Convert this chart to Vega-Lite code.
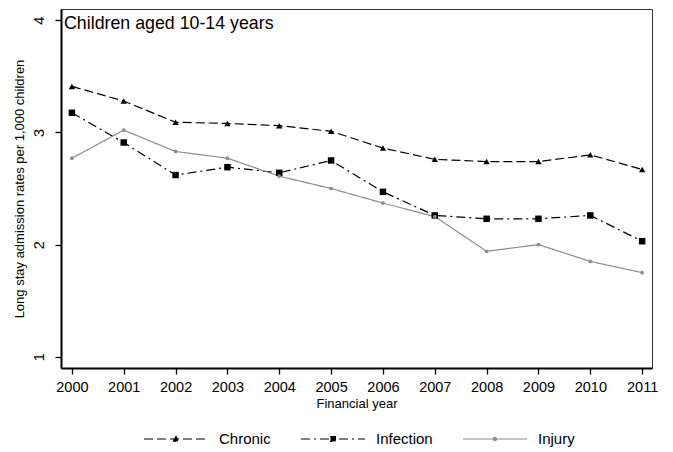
{
  "$schema": "https://vega.github.io/schema/vega-lite/v6.json",
  "width": 591,
  "height": 359,
  "autosize": {"type": "none"},
  "padding": {"left": 61, "top": 9, "right": 21, "bottom": 84},
  "background": "white",
  "title": {
    "text": "Children aged 10-14 years",
    "anchor": "start",
    "frame": "group",
    "orient": "top",
    "baseline": "top",
    "offset": -24,
    "dx": 3,
    "fontSize": 17.8,
    "fontWeight": "normal",
    "font": "Liberation Sans",
    "color": "#000"
  },
  "config": {
    "font": "Liberation Sans",
    "view": {"stroke": "#333", "strokeWidth": 1},
    "axis": {"grid": false, "domainColor": "#000", "domainWidth": 2, "tickColor": "#000", "tickWidth": 1.3, "tickSize": 6, "labelColor": "#000", "titleColor": "#000", "labelFont": "Liberation Sans", "titleFont": "Liberation Sans", "titleFontWeight": "normal"},
    "legend": {"orient": "none", "legendX": 82, "legendY": 397, "direction": "horizontal", "symbolSize": 4096, "symbolStrokeWidth": 1.2, "symbolOpacity": 1, "labelFontSize": 15, "labelFont": "Liberation Sans", "labelColor": "#000", "labelOffset": 10, "columnPadding": 27, "title": null}
  },
  "data": {"values": [
    {"year": 2000, "series": "Chronic", "rate": 3.41},
    {"year": 2001, "series": "Chronic", "rate": 3.28},
    {"year": 2002, "series": "Chronic", "rate": 3.09},
    {"year": 2003, "series": "Chronic", "rate": 3.08},
    {"year": 2004, "series": "Chronic", "rate": 3.06},
    {"year": 2005, "series": "Chronic", "rate": 3.01},
    {"year": 2006, "series": "Chronic", "rate": 2.86},
    {"year": 2007, "series": "Chronic", "rate": 2.76},
    {"year": 2008, "series": "Chronic", "rate": 2.74},
    {"year": 2009, "series": "Chronic", "rate": 2.74},
    {"year": 2010, "series": "Chronic", "rate": 2.80},
    {"year": 2011, "series": "Chronic", "rate": 2.67},
    {"year": 2000, "series": "Infection", "rate": 3.175},
    {"year": 2001, "series": "Infection", "rate": 2.91},
    {"year": 2002, "series": "Infection", "rate": 2.62},
    {"year": 2003, "series": "Infection", "rate": 2.69},
    {"year": 2004, "series": "Infection", "rate": 2.64},
    {"year": 2005, "series": "Infection", "rate": 2.75},
    {"year": 2006, "series": "Infection", "rate": 2.47},
    {"year": 2007, "series": "Infection", "rate": 2.26},
    {"year": 2008, "series": "Infection", "rate": 2.23},
    {"year": 2009, "series": "Infection", "rate": 2.23},
    {"year": 2010, "series": "Infection", "rate": 2.26},
    {"year": 2011, "series": "Infection", "rate": 2.03},
    {"year": 2000, "series": "Injury", "rate": 2.77},
    {"year": 2001, "series": "Injury", "rate": 3.02},
    {"year": 2002, "series": "Injury", "rate": 2.83},
    {"year": 2003, "series": "Injury", "rate": 2.77},
    {"year": 2004, "series": "Injury", "rate": 2.61},
    {"year": 2005, "series": "Injury", "rate": 2.50},
    {"year": 2006, "series": "Injury", "rate": 2.37},
    {"year": 2007, "series": "Injury", "rate": 2.25},
    {"year": 2008, "series": "Injury", "rate": 1.94},
    {"year": 2009, "series": "Injury", "rate": 2.00},
    {"year": 2010, "series": "Injury", "rate": 1.85},
    {"year": 2011, "series": "Injury", "rate": 1.75}
  ]},
  "encoding": {
    "x": {
      "field": "year", "type": "quantitative",
      "scale": {"domain": [1999.79, 2011.19], "nice": false, "zero": false},
      "axis": {"values": [2000, 2001, 2002, 2003, 2004, 2005, 2006, 2007, 2008, 2009, 2010, 2011], "format": "d", "labelFontSize": 14.5, "labelPadding": 6, "title": "Financial year", "titleFontSize": 13, "titlePadding": 4}
    },
    "y": {
      "field": "rate", "type": "quantitative",
      "scale": {"domain": [0.9, 4.1], "nice": false, "zero": false},
      "axis": {"values": [1, 2, 3, 4], "format": "d", "labelFontSize": 14.5, "labelAngle": -90, "labelAlign": "center", "labelBaseline": "alphabetic", "labelPadding": 12, "title": "Long stay admission rates per 1,000 children", "titleFontSize": 13, "titlePadding": 5}
    }
  },
  "layer": [
    {
      "mark": {"type": "line", "strokeWidth": 1.2},
      "encoding": {
        "stroke": {"field": "series", "type": "nominal", "title": null, "scale": {"domain": ["Chronic", "Infection", "Injury"], "range": ["#000000", "#000000", "#8c8c8c"]}},
        "strokeDash": {"field": "series", "type": "nominal", "title": null, "scale": {"domain": ["Chronic", "Infection", "Injury"], "range": [[9, 4], [9, 4, 2, 4], [1, 0]]}}
      }
    },
    {
      "transform": [{"filter": "datum.series === 'Chronic'"}],
      "mark": {"type": "point", "shape": "triangle-up", "filled": true, "color": "#000", "size": 40, "opacity": 1}
    },
    {
      "transform": [{"filter": "datum.series === 'Infection'"}],
      "mark": {"type": "point", "shape": "square", "filled": true, "color": "#000", "size": 42, "opacity": 1}
    },
    {
      "transform": [{"filter": "datum.series === 'Injury'"}],
      "mark": {"type": "point", "shape": "circle", "filled": true, "color": "#8c8c8c", "size": 14, "opacity": 1}
    },
    {
      "mark": {"type": "point", "filled": true, "opacity": 0},
      "encoding": {
        "shape": {"field": "series", "type": "nominal", "title": null,
          "scale": {"domain": ["Chronic", "Infection", "Injury"], "range": [
            "M-1,0H1M-0.08,0.07L0,-0.08L0.08,0.07Z",
            "M-1,0H1M-0.075,-0.075H0.075V0.075H-0.075Z",
            "M-1,0H1M0.05,0A0.05,0.05,0,1,1,-0.05,0A0.05,0.05,0,1,1,0.05,0Z"
          ]}
        },
        "fill": {"field": "series", "type": "nominal", "title": null, "scale": {"domain": ["Chronic", "Infection", "Injury"], "range": ["#000000", "#000000", "#8c8c8c"]}},
        "stroke": {"field": "series", "type": "nominal", "title": null},
        "strokeDash": {"field": "series", "type": "nominal", "title": null}
      }
    }
  ]
}
